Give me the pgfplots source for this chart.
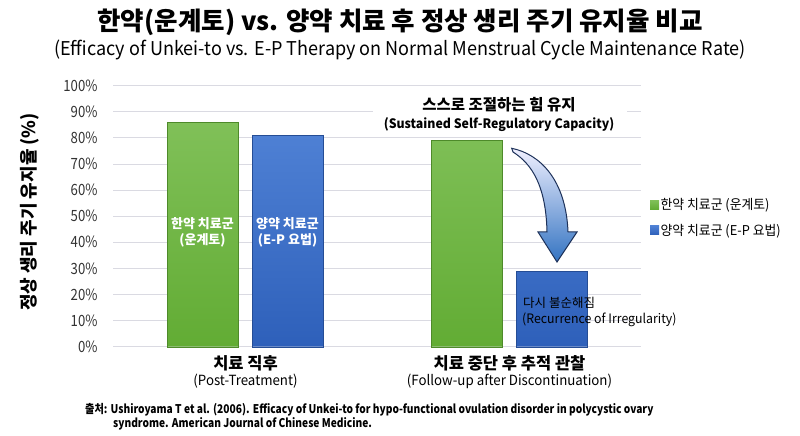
\documentclass[border=0pt]{standalone}
\usepackage{pgfplots}
\pgfplotsset{compat=1.18}
\usepackage{fontspec}
\setmainfont{Noto Sans CJK KR}
\newfontfamily\cond{Noto Sans CJK KR}[FakeStretch=0.85]
\newfontfamily\semi{Noto Sans CJK KR}[FakeStretch=0.95]
\definecolor{gtop}{RGB}{128,192,88}
\definecolor{gbot}{RGB}{98,172,52}
\definecolor{btop}{RGB}{78,128,212}
\definecolor{bbot}{RGB}{46,96,186}
\definecolor{gridc}{RGB}{218,218,226}
\definecolor{arrline}{RGB}{30,50,90}
\newcommand{\fs}[1]{\fontsize{#1pt}{#1pt}\selectfont}
\begin{document}
\begin{tikzpicture}[x=1pt,y=1pt]
\path[use as bounding box] (0,0) rectangle (800,436);
\begin{axis}[
  at={(113pt,89.3pt)}, anchor=south west, scale only axis,
  width=528pt, height=261pt,
  xmin=-0.5, xmax=1.5, ymin=0, ymax=100,
  axis line style={draw=none}, major tick length=0pt,
  ytick={0,10,...,100}, xtick=\empty,
  ymajorgrids, grid style={color=gridc, line width=0.9pt},
  ybar=14pt, bar width=71pt,
  /pgf/number format/assume math mode=true,
  yticklabel={\pgfmathprintnumber{\tick}\%},
  yticklabel style={font=\cond\fs{15.5}, text=black!80, anchor=east, xshift=-12pt},
  clip=false,
  legend style={at={(1.017,0.575)}, anchor=north west, draw=none, fill=none,
    font=\semi\fs{13.5}, row sep=10pt, inner sep=0pt,
    nodes={inner sep=1.5pt, anchor=west}},
  legend image code/.code={\path[#1, draw=none] (0pt,-4.5pt) rectangle (9pt,4.5pt);},
]
\addplot[top color=gtop, bottom color=gbot, draw=gbot!80!black, line width=0.3pt] coordinates {(0,86) (1,79)};
\addplot[top color=btop, bottom color=bbot, draw=bbot!80!black, line width=0.3pt] coordinates {(0,81) (1,29)};
\legend{한약 치료군 (운계토), 양약 치료군 (E-P 요법)}
\node[text=white, font=\bfseries\fs{13}, align=center, inner sep=0pt] at (axis cs:0,44) [xshift=-42.5pt] {한약 치료군\\[3pt](운계토)};
\node[text=white, font=\bfseries\fs{13}, align=center, inner sep=0pt] at (axis cs:0,44) [xshift=42.5pt] {양약 치료군\\[3pt](E-P 요법)};
\end{axis}
% annotation box
\fill[white] (373,303) rectangle (627,346);
\node[font=\bfseries\fs{15.5}] at (499,331) {스스로 조절하는 힘 유지};
\node[font=\semi\bfseries\fs{13}] at (499,311) {(Sustained Self-Regulatory Capacity)};
% curved arrow
\path[top color=white!80!blue!30, bottom color=blue!55!cyan!70!black!80, draw=arrline, line width=1pt]
  (511.7,287.7) .. controls (540,282) and (566,256) .. (568,204)
  -- (577,204) -- (557,174) -- (538,204) -- (547,204)
  .. controls (546,250) and (532,272) .. (513,284) -- cycle;
% recurrence text
\node[font=\fs{12.5}, anchor=west, inner sep=0pt] at (523,133) {다시 불순해짐};
\node[font=\semi\fs{13}, anchor=west, inner sep=0pt] at (522,116) {(Recurrence of Irregularity)};
% titles
\node[font=\bfseries\fs{25.5}] at (400,414) {한약(운계토) vs. 양약 치료 후 정상 생리 주기 유지율 비교};
\node[font=\semi\fs{19}] at (400,386) {(Efficacy of Unkei-to vs. E-P Therapy on Normal Menstrual Cycle Maintenance Rate)};
% y label
\node[font=\bfseries\fs{18}, rotate=90] at (30,224) {정상 생리 주기 유지율 (\%)};
% category labels
\node[font=\bfseries\fs{16.5}] at (245.5,73) {치료 직후};
\node[font=\semi\fs{14}] at (245.5,55) {(Post-Treatment)};
\node[font=\bfseries\fs{16.5}] at (509.5,73) {치료 중단 후 추적 관찰};
\node[font=\semi\fs{14}] at (509.5,55) {(Follow-up after Discontinuation)};
% source
\node[font=\cond\bfseries\fs{12}, anchor=west, inner sep=0pt] at (85,26) {출처: Ushiroyama T et al. (2006). Efficacy of Unkei-to for hypo-functional ovulation disorder in polycystic ovary};
\node[font=\cond\bfseries\fs{12}, anchor=west, inner sep=0pt] at (113,12) {syndrome. American Journal of Chinese Medicine.};
\end{tikzpicture}
\end{document}
